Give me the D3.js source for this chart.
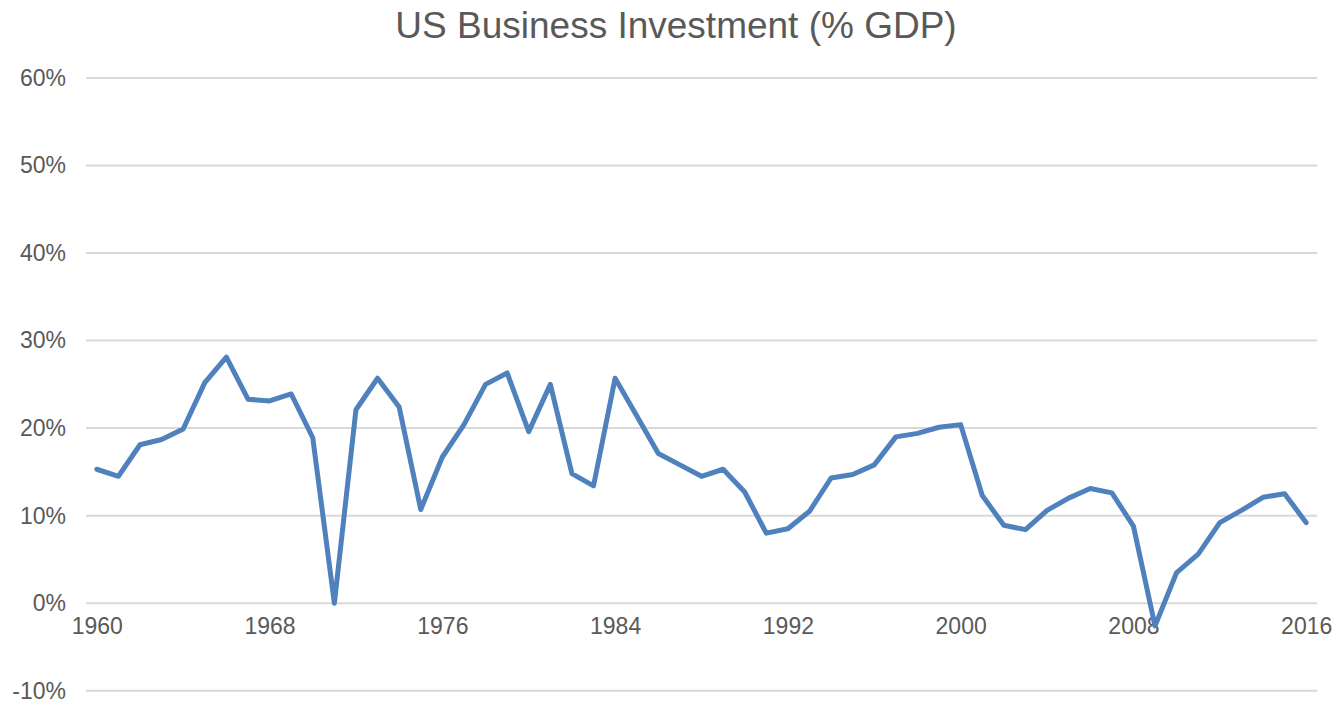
<!DOCTYPE html>
<html>
<head>
<meta charset="utf-8">
<script src="https://cdn.jsdelivr.net/npm/d3@7"></script>
<style>
  body { margin: 0; background: #fff; }
  svg { display: block; font-family: "Liberation Sans", Arial, sans-serif; }
  .axis path { display: none; }
  .axis text { fill: #595959; font-size: 23px; }
</style>
</head>
<body>
<div id="chart"></div>
<script>
// years 1960..2016
var years = d3.range(1960, 2017);

// business investment, % of GDP (fraction)
var investment = [
	15.3, 14.5, 18.1, 18.7, 19.9, 25.2, 28.1, 23.3, 23.1, 23.9,
	18.9, 0.0, 22.1, 25.7, 22.4, 10.7, 16.7, 20.4, 25.0, 26.3,
	19.6, 25.0, 14.8, 13.4, 25.7, 21.4, 17.1, 15.8, 14.5, 15.3,
	12.7, 8.0, 8.5, 10.5, 14.3, 14.7, 15.8, 19.0, 19.4, 20.1,
	20.4, 12.3, 8.9, 8.4, 10.6, 12.0, 13.1, 12.6, 8.8, -2.6,
	3.5, 5.6, 9.2, 10.6, 12.1, 12.5, 9.2
].map(function(v) { return v / 100; });

var yTicks = [-0.1, 0, 0.1, 0.2, 0.3, 0.4, 0.5, 0.6];
var xTickYears = [1960, 1968, 1976, 1984, 1992, 2000, 2008, 2016];

var width = 1335, height = 701;

var svg = d3.select("#chart").append("svg")
	.attr("width", width)
	.attr("height", height);

var x = d3.scalePoint()
	.domain(years)
	.range([86, 1317])
	.padding(0.5);

var y = d3.scaleLinear()
	.domain([-0.1, 0.6])
	.range([690.7, 78]);

// title
svg.append("text")
	.attr("x", 676)
	.attr("y", 38)
	.attr("text-anchor", "middle")
	.style("font-size", "37px")
	.style("fill", "#595959")
	.text("US Business Investment (% GDP)");

// gridlines
svg.append("g").attr("class", "grid")
	.selectAll("line")
	.data(yTicks)
	.enter().append("line")
	.attr("x1", 86)
	.attr("x2", 1317)
	.attr("y1", function(d) { return y(d); })
	.attr("y2", function(d) { return y(d); })
	.style("stroke", "#d9d9d9")
	.style("stroke-width", 2);

// y axis labels (plain hyphen for negatives, like the original)
var yAxis = d3.axisLeft(y)
	.tickValues(yTicks)
	.tickSize(0)
	.tickPadding(0)
	.tickFormat(function(d) { return Math.round(d * 100) + "%"; });

svg.append("g")
	.attr("class", "axis yaxis")
	.attr("transform", "translate(66,0)")
	.call(yAxis);

// x axis sits on the 0% line
var xAxis = d3.axisBottom(x)
	.tickValues(xTickYears)
	.tickSize(0)
	.tickPadding(15);

svg.append("g")
	.attr("class", "axis xaxis")
	.attr("transform", "translate(0," + y(0) + ")")
	.call(xAxis);

// the line
var line = d3.line()
	.x(function(d, i) { return x(years[i]); })
	.y(function(d) { return y(d); });

svg.append("path")
	.datum(investment)
	.attr("d", line)
	.style("fill", "none")
	.style("stroke", "#4f81bd")
	.style("stroke-width", 5)
	.style("stroke-linejoin", "round")
	.style("stroke-linecap", "round");
</script>
</body>
</html>
